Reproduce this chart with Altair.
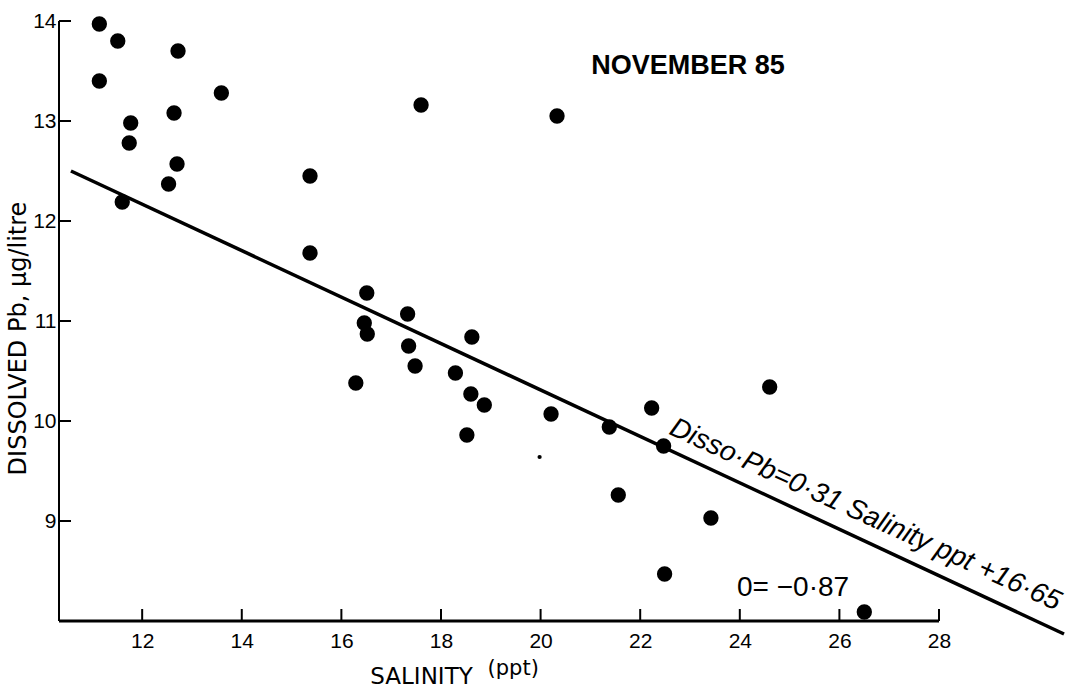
import altair as alt
import pandas as pd

# ---- data ----
salinity = [11.14, 11.51, 11.14, 12.72, 13.59, 11.77, 12.64, 11.74, 12.70, 12.53,
            11.60, 15.37, 15.37, 17.60, 20.33, 16.51, 16.46, 16.52, 17.33, 17.35,
            17.48, 16.29, 18.62, 18.29, 18.60, 18.87, 18.52, 20.21, 22.23, 24.60,
            21.38, 22.47, 21.56, 23.42, 22.49, 26.50]
pb = [13.97, 13.80, 13.40, 13.70, 13.28, 12.98, 13.08, 12.78, 12.57, 12.37,
      12.19, 12.45, 11.68, 13.16, 13.05, 11.28, 10.98, 10.87, 11.07, 10.75,
      10.55, 10.38, 10.84, 10.48, 10.27, 10.16, 9.86, 10.07, 10.13, 10.34,
      9.94, 9.75, 9.26, 9.03, 8.47, 8.09]
speck_salinity = [19.98]
speck_pb = [9.64]
fit_salinity = [10.57, 30.51]
fit_pb = [12.50, 7.87]

x_ticks = [12, 14, 16, 18, 20, 22, 24, 26, 28]
y_ticks = [9, 10, 11, 12, 13, 14]
x_min, x_max, x_axis_end = 10.33, 30.59, 28
y_min, y_max = 8, 14

title_text = ["NOVEMBER 85"]
title_pos = [22.96, 13.55]
eq_text = ["Disso·Pb=0·31 Salinity ppt +16·65"]
eq_pos = [26.52, 9.06]
r_text = ["0= −0·87"]
r_pos = [25.07, 8.33]
unit_text = ["(ppt)"]
unit_pos = [19.45, 7.46]

FONT = "Liberation Sans"

xs = alt.Scale(domain=[x_min, x_max], nice=False, zero=False)
ys = alt.Scale(domain=[y_min, y_max], nice=False, zero=False)

xax = alt.Axis(values=x_ticks, ticks=False, domain=False, grid=False, format="d",
               labelFont=FONT, labelFontSize=21, labelPadding=9, labelColor="black",
               title="SALINITY", titleFont="DejaVu Sans", titleFontSize=23,
               titleFontWeight="normal", titleColor="black", titleX=362, titleY=62,
               titleBaseline="alphabetic", titleAlign="center")
yax = alt.Axis(values=y_ticks, ticks=False, domain=False, grid=False, format="d",
               labelFont=FONT, labelFontSize=21, labelPadding=3, labelColor="black",
               title="DISSOLVED Pb, µg/litre", titleFont="DejaVu Sans", titleFontSize=24,
               titleFontWeight="normal", titleColor="black", titleX=-34, titleY=317,
               titleBaseline="alphabetic", titleAlign="center", titleAngle=270)

one = pd.DataFrame({"k": [0]})

points = alt.Chart(pd.DataFrame({"s": salinity, "pb": pb})).mark_circle(
    size=235, color="black", opacity=1
).encode(x=alt.X("s:Q", scale=xs, axis=xax), y=alt.Y("pb:Q", scale=ys, axis=yax))

speck = alt.Chart(pd.DataFrame({"s": speck_salinity, "pb": speck_pb})).mark_circle(
    size=18, color="black", opacity=1
).encode(x=alt.X("s:Q", scale=xs, axis=xax), y=alt.Y("pb:Q", scale=ys, axis=yax))

fit = alt.Chart(pd.DataFrame({"s": fit_salinity, "pb": fit_pb})).mark_line(
    color="black", strokeWidth=3.5
).encode(x=alt.X("s:Q", scale=xs, axis=xax), y=alt.Y("pb:Q", scale=ys, axis=yax))

y_line = alt.Chart(one).mark_rule(color="black", strokeWidth=2).encode(
    x=alt.XDatum(x_min, scale=xs, axis=xax),
    y=alt.YDatum(y_min, scale=ys, axis=yax),
    y2=alt.Y2Datum(y_max),
)
x_line = alt.Chart(one).mark_rule(color="black", strokeWidth=3).encode(
    x=alt.XDatum(x_min, scale=xs, axis=xax),
    x2=alt.X2Datum(x_axis_end),
    y=alt.YDatum(y_min, scale=ys, axis=yax),
)

x_tick_marks = alt.Chart(pd.DataFrame({"s": x_ticks})).mark_tick(
    orient="vertical", size=12, thickness=2, yOffset=-6, color="black", opacity=1
).encode(x=alt.X("s:Q", scale=xs, axis=xax), y=alt.YDatum(y_min, scale=ys, axis=yax))

y_tick_marks = alt.Chart(pd.DataFrame({"pb": y_ticks})).mark_tick(
    orient="horizontal", size=12, thickness=2, xOffset=6, color="black", opacity=1
).encode(x=alt.XDatum(x_min, scale=xs, axis=xax), y=alt.Y("pb:Q", scale=ys, axis=yax))


def label(texts, pos, **kw):
    return alt.Chart(pd.DataFrame({"t": texts})).mark_text(color="black", **kw).encode(
        x=alt.XDatum(pos[0], scale=xs, axis=xax),
        y=alt.YDatum(pos[1], scale=ys, axis=yax),
        text="t:N",
    )


t_title = label(title_text, title_pos, font=FONT, fontSize=27, fontWeight="bold",
                align="center", baseline="middle")
t_eq = label(eq_text, eq_pos, font=FONT, fontSize=28, fontStyle="italic",
             align="center", baseline="middle", angle=24.5)
t_r = label(r_text, r_pos, font=FONT, fontSize=28, align="center", baseline="middle")
t_unit = label(unit_text, unit_pos, font="DejaVu Sans", fontSize=21, align="center",
               baseline="alphabetic")

chart = alt.layer(
    y_line, x_line, x_tick_marks, y_tick_marks, fit, points, speck,
    t_title, t_eq, t_r, t_unit
).properties(
    width=1009, height=600,
    autosize=alt.AutoSizeParams(type="none"),
    padding={"left": 59, "top": 21, "right": 9, "bottom": 74},
    background="white",
).configure_view(stroke=None)

chart.save("out.html", embed_options={"renderer": "svg", "actions": False})
